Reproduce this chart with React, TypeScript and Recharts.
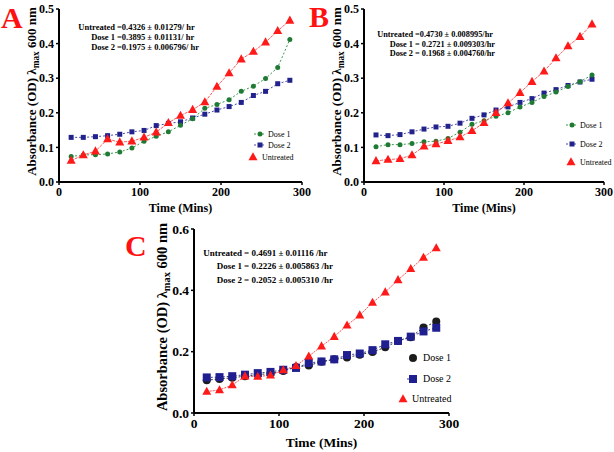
import { LineChart, Line, XAxis, YAxis } from 'recharts';

const SERIF = '"Liberation Serif", "DejaVu Serif", "Times New Roman", serif';

// sampling times (minutes)
const times = [15, 30, 45, 60, 75, 90, 105, 120, 135, 150, 165, 180, 195, 210, 225, 240, 255, 270, 285];

// panel A
const aUntreated = [0.062, 0.078, 0.089, 0.124, 0.115, 0.118, 0.129, 0.144, 0.171, 0.192, 0.209, 0.231, 0.276, 0.315, 0.355, 0.377, 0.404, 0.437, 0.467];
const aDose1 = [0.074, 0.078, 0.079, 0.081, 0.087, 0.098, 0.118, 0.132, 0.145, 0.164, 0.183, 0.213, 0.224, 0.238, 0.262, 0.277, 0.299, 0.331, 0.412];
const aDose2 = [0.129, 0.129, 0.131, 0.134, 0.138, 0.145, 0.149, 0.163, 0.169, 0.174, 0.185, 0.196, 0.208, 0.218, 0.230, 0.250, 0.262, 0.284, 0.294];

// panel B
const bUntreated = [0.061, 0.065, 0.067, 0.078, 0.103, 0.110, 0.119, 0.130, 0.148, 0.171, 0.200, 0.228, 0.258, 0.290, 0.320, 0.358, 0.393, 0.420, 0.456];
const bDose1 = [0.102, 0.108, 0.108, 0.111, 0.116, 0.118, 0.126, 0.144, 0.167, 0.177, 0.190, 0.200, 0.217, 0.230, 0.247, 0.260, 0.276, 0.290, 0.309];
const bDose2 = [0.136, 0.134, 0.137, 0.145, 0.153, 0.159, 0.161, 0.170, 0.184, 0.194, 0.208, 0.217, 0.230, 0.241, 0.257, 0.267, 0.279, 0.289, 0.297];

// panel C
const cUntreated = [0.070, 0.075, 0.091, 0.120, 0.119, 0.123, 0.140, 0.154, 0.185, 0.218, 0.249, 0.286, 0.319, 0.360, 0.394, 0.434, 0.470, 0.507, 0.538];
const cDose1 = [0.107, 0.111, 0.115, 0.120, 0.125, 0.129, 0.137, 0.150, 0.155, 0.167, 0.175, 0.181, 0.190, 0.199, 0.214, 0.235, 0.247, 0.279, 0.298];
const cDose2 = [0.116, 0.117, 0.120, 0.125, 0.130, 0.134, 0.141, 0.147, 0.163, 0.168, 0.175, 0.189, 0.194, 0.205, 0.224, 0.235, 0.249, 0.266, 0.278];

const xTicks = [0, 100, 200, 300];
const yTicksAB = [0, 0.1, 0.2, 0.3, 0.4, 0.5];
const yTicksC = [0, 0.2, 0.4, 0.6];

const rateLabels = ['Untreated', 'Dose 1', 'Dose 2'];
const aRates = ['=0.4326 ± 0.01279/ hr', '=0.3895 ± 0.01131/ hr', '=0.1975 ± 0.006796/ hr'];
const bRates = ['=0.4730 ± 0.008995/hr', '= 0.2721 ± 0.009303/hr', '= 0.1968 ± 0.004760/hr'];
const cRates = ['= 0.4691 ± 0.01116 /hr', '= 0.2226 ± 0.005863 /hr', '= 0.2052 ± 0.005310 /hr'];

const toRows = (u: number[], d1: number[], d2: number[]) =>
  times.map((t, i) => ({ t, untreated: u[i], dose1: d1[i], dose2: d2[i] }));

type Shape = 'circle' | 'square' | 'triangle';

function Marker({ shape, cx, cy, size, fill }: { shape: Shape; cx?: number; cy?: number; size: number; fill: string }) {
  if (cx == null || cy == null) return null;
  if (shape === 'circle') return <circle cx={cx} cy={cy} r={size / 2} fill={fill} />;
  if (shape === 'square')
    return <rect x={cx - size / 2} y={cy - size / 2} width={size} height={size} fill={fill} />;
  const h = size * 0.9;
  return (
    <polygon
      points={`${cx},${cy - h * 0.6} ${cx - size / 2},${cy + h * 0.4} ${cx + size / 2},${cy + h * 0.4}`}
      fill={fill}
    />
  );
}

interface SeriesStyle {
  key: 'untreated' | 'dose1' | 'dose2';
  name: string;
  stroke: string;
  dash: string;
  shape: Shape;
  fill: string;
  size: number;
}

const stylesAB: SeriesStyle[] = [
  { key: 'dose2', name: 'Dose 2', stroke: '#4b4ba6', dash: '2 2', shape: 'square', fill: '#22228c', size: 5 },
  { key: 'dose1', name: 'Dose 1', stroke: '#3a9a4c', dash: '2 2', shape: 'circle', fill: '#1f7a33', size: 5 },
  { key: 'untreated', name: 'Untreated', stroke: '#ff5a5a', dash: '3 1', shape: 'triangle', fill: '#ff1a1a', size: 9 },
];

const stylesC: SeriesStyle[] = [
  { key: 'dose1', name: 'Dose 1', stroke: '#333333', dash: '2 2', shape: 'circle', fill: '#1c1c1c', size: 8 },
  { key: 'dose2', name: 'Dose 2', stroke: '#3a3a90', dash: '2 2', shape: 'square', fill: '#1f1f8f', size: 8 },
  { key: 'untreated', name: 'Untreated', stroke: '#ff5050', dash: '2 1', shape: 'triangle', fill: '#ff1a1a', size: 9 },
];

interface PanelCfg {
  left: number;
  top: number;
  width: number;
  height: number;
  margin: { top: number; right: number; bottom: number; left: number };
  yWidth: number;
  xHeight: number;
  yMax: number;
  yTicks: number[];
  tickFont: number;
  titleFont: number;
  yTitleDx: number;
  xTitleDy: number;
}

function Panel({ cfg, rows, styles }: { cfg: PanelCfg; rows: any[]; styles: SeriesStyle[] }) {
  const tick = { fill: '#000', fontSize: cfg.tickFont, fontWeight: 'bold', fontFamily: SERIF };
  return (
    <div style={{ position: 'absolute', left: cfg.left, top: cfg.top }}>
      <LineChart width={cfg.width} height={cfg.height} data={rows} margin={cfg.margin} style={{ overflow: 'visible' }}>
        <XAxis
          dataKey="t"
          type="number"
          domain={[0, 300]}
          ticks={xTicks}
          interval={0}
          height={cfg.xHeight}
          tick={tick}
          tickSize={3}
          tickLine={{ stroke: '#000', strokeWidth: 1.5 }}
          axisLine={{ stroke: '#000', strokeWidth: 2 }}
          label={{
            content: (p: any) => {
              const vb = p.viewBox;
              return (
                <text
                  x={vb.x + vb.width / 2}
                  y={vb.y + cfg.xTitleDy}
                  textAnchor="middle"
                  style={{ fontFamily: SERIF, fontWeight: 'bold', fontSize: cfg.titleFont }}
                  fill="#000"
                >
                  Time (Mins)
                </text>
              );
            },
          }}
        />
        <YAxis
          type="number"
          domain={[0, cfg.yMax]}
          ticks={cfg.yTicks}
          interval={0}
          width={cfg.yWidth}
          tick={tick}
          tickSize={3}
          tickFormatter={(v: number) => v.toFixed(1)}
          tickLine={{ stroke: '#000', strokeWidth: 1.5 }}
          axisLine={{ stroke: '#000', strokeWidth: 2 }}
          label={{
            content: (p: any) => {
              const vb = p.viewBox;
              const fs = cfg.titleFont + 1;
              const x = vb.x + vb.width - cfg.yTitleDx + fs * 0.33;
              const y = vb.y + vb.height / 2 - 4;
              return (
                <text
                  x={x}
                  y={y}
                  transform={`rotate(-90, ${x}, ${y})`}
                  textAnchor="middle"
                  style={{ fontFamily: SERIF, fontWeight: 'bold', fontSize: fs }}
                  fill="#000"
                >
                  Absorbance (OD) λ
                  <tspan dy={3} style={{ fontSize: fs * 0.72 }}>max</tspan>
                  <tspan dy={-3}> 600 nm</tspan>
                </text>
              );
            },
          }}
        />
        {styles.map((s) => (
          <Line
            key={s.key}
            type="linear"
            dataKey={s.key}
            name={s.name}
            stroke={s.stroke}
            strokeWidth={1}
            strokeDasharray={s.dash}
            isAnimationActive={false}
            dot={(p: any) => (
              <Marker key={`${s.key}-${p.index}`} shape={s.shape} cx={p.cx} cy={p.cy} size={s.size} fill={s.fill} />
            )}
            activeDot={false}
          />
        ))}
      </LineChart>
    </div>
  );
}

const cfgA: PanelCfg = {
  left: 0, top: 0, width: 312, height: 220,
  margin: { top: 9, right: 10, bottom: 0, left: 0 },
  yWidth: 59, xHeight: 38, yMax: 0.5, yTicks: yTicksAB,
  tickFont: 12, titleFont: 12, yTitleDx: 27, xTitleDy: 30,
};
const cfgB: PanelCfg = {
  left: 305, top: 0, width: 309, height: 220,
  margin: { top: 9, right: 10, bottom: 0, left: 0 },
  yWidth: 59, xHeight: 38, yMax: 0.5, yTicks: yTicksAB,
  tickFont: 12, titleFont: 12, yTitleDx: 27, xTitleDy: 30,
};
const cfgC: PanelCfg = {
  left: 140, top: 220, width: 320, height: 232,
  margin: { top: 9, right: 11, bottom: 0, left: 0 },
  yWidth: 54, xHeight: 39, yMax: 0.6, yTicks: yTicksC,
  tickFont: 13.5, titleFont: 13.5, yTitleDx: 32, xTitleDy: 34,
};

function Rates({ eqX, ys, rates, size }: { eqX: number; ys: number[]; rates: string[]; size: number }) {
  const st = { fontFamily: SERIF, fontWeight: 'bold' as const, fontSize: size };
  return (
    <g fill="#000">
      {rateLabels.map((l, i) => (
        <g key={l}>
          <text x={eqX - 2} y={ys[i]} textAnchor="end" style={st}>{l}</text>
          <text x={eqX} y={ys[i]} style={st}>{rates[i]}</text>
        </g>
      ))}
    </g>
  );
}

interface LegendRow { s: SeriesStyle; mx: number; tx: number; y: number; line: boolean }

function LegendBox({ rows, size }: { rows: LegendRow[]; size: number }) {
  const st = { fontFamily: SERIF, fontWeight: 'normal' as const, fontSize: size };
  return (
    <g fill="#000">
      {rows.map((r) => (
        <g key={r.s.key}>
          {r.line && (
            <line x1={r.mx - 6} x2={r.mx + 6} y1={r.y} y2={r.y} stroke={r.s.stroke} strokeDasharray={r.s.dash} />
          )}
          <Marker shape={r.s.shape} cx={r.mx} cy={r.y} size={r.s.size} fill={r.s.fill} />
          <text x={r.tx} y={r.y + size * 0.33} style={st}>{r.s.name}</text>
        </g>
      ))}
    </g>
  );
}

const find = (arr: SeriesStyle[], k: string) => arr.find((s) => s.key === k)!;

export default function App() {
  const rowsA = toRows(aUntreated, aDose1, aDose2);
  const rowsB = toRows(bUntreated, bDose1, bDose2);
  const rowsC = toRows(cUntreated, cDose1, cDose2);
  const letter = { fontFamily: SERIF, fontWeight: 'bold' as const, fontSize: 30 };
  return (
    <div style={{ position: 'absolute', left: 0, top: 0, width: 614, height: 452, background: '#fff', overflow: 'hidden' }}>
      <Panel cfg={cfgA} rows={rowsA} styles={stylesAB} />
      <Panel cfg={cfgB} rows={rowsB} styles={stylesAB} />
      <Panel cfg={cfgC} rows={rowsC} styles={stylesC} />
      <svg width={614} height={452} style={{ position: 'absolute', left: 0, top: 0, pointerEvents: 'none' }}>
        <g fill="#ff1111">
          <text x={1} y={28} style={letter}>A</text>
          <text x={309} y={27} style={letter}>B</text>
          <text x={125} y={256} style={letter}>C</text>
        </g>
        <Rates eqX={117} ys={[30, 40, 50]} rates={aRates} size={8.5} />
        <Rates eqX={415} ys={[37, 47, 56]} rates={bRates} size={8.3} />
        <Rates eqX={244} ys={[256, 269, 283]} rates={cRates} size={9} />
        <LegendBox
          size={8}
          rows={[
            { s: find(stylesAB, 'dose1'), mx: 260, tx: 268, y: 134, line: true },
            { s: find(stylesAB, 'dose2'), mx: 260, tx: 268, y: 145, line: true },
            { s: find(stylesAB, 'untreated'), mx: 253, tx: 262, y: 157, line: false },
          ]}
        />
        <LegendBox
          size={8}
          rows={[
            { s: find(stylesAB, 'dose1'), mx: 572, tx: 580, y: 125, line: true },
            { s: find(stylesAB, 'dose2'), mx: 572, tx: 580, y: 144, line: true },
            { s: find(stylesAB, 'untreated'), mx: 571, tx: 580, y: 162, line: false },
          ]}
        />
        <LegendBox
          size={10}
          rows={[
            { s: find(stylesC, 'dose1'), mx: 413, tx: 423, y: 358, line: false },
            { s: find(stylesC, 'dose2'), mx: 413, tx: 423, y: 379, line: true },
            { s: find(stylesC, 'untreated'), mx: 403, tx: 412, y: 399, line: false },
          ]}
        />
      </svg>
    </div>
  );
}
